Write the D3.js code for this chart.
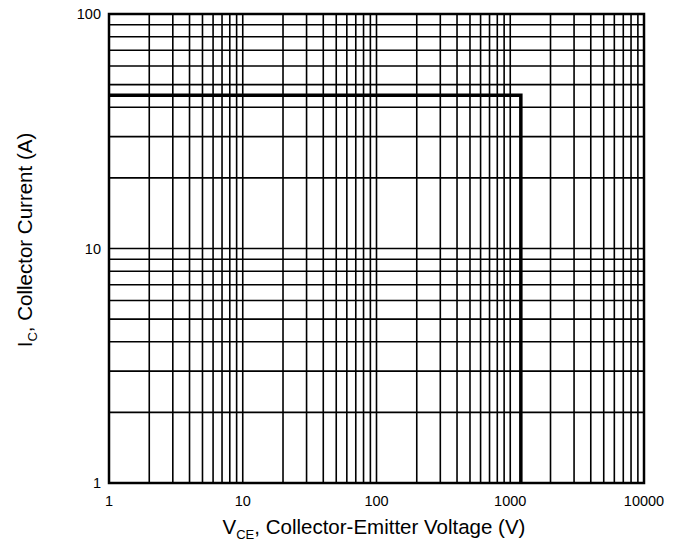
<!DOCTYPE html>
<html>
<head>
<meta charset="utf-8">
<script src="https://cdn.jsdelivr.net/npm/d3@7"></script>
<style>
  body { margin: 0; background: #fff; }
  text { font-family: "Liberation Sans", Arial, sans-serif; fill: #000; }
</style>
</head>
<body>
<div id="root"></div>
<script>
const width = 685;
const height = 550;

// axis domains and tick labels
const xDomain = [1, 10000];
const yDomain = [1, 100];
const xTickLabels = [1, 10, 100, 1000, 10000];
const yTickLabels = [1, 10, 100];

// safe operating area boundary (V, A)
const soaV = [1, 1200, 1200];
const soaI = [45, 45, 1];

const margin = {top: 14, right: 41, bottom: 67, left: 109};

const svg = d3.select('#root')
    .append('svg')
    .attr('width', width)
    .attr('height', height);

const x = d3.scaleLog().domain(xDomain).range([margin.left, width - margin.right]);
const y = d3.scaleLog().domain(yDomain).range([height - margin.bottom, margin.top]);

// minor + major grid values for each decade
const gridVals = (lo, hi) => {
    const out = [];
    for (let d = lo; d < hi; d *= 10) {
        for (let k = 1; k <= 9; k++) out.push(d * k);
    }
    out.push(hi);
    return out;
};

const grid = svg.append('g');
grid.selectAll('line.v')
    .data(gridVals(xDomain[0], xDomain[1]))
    .join('line')
    .attr('class', 'v')
    .attr('x1', d => x(d)).attr('x2', d => x(d))
    .attr('y1', y(yDomain[0])).attr('y2', y(yDomain[1]))
    .attr('stroke', '#000')
    .attr('stroke-width', 1.6);

grid.selectAll('line.h')
    .data(gridVals(yDomain[0], yDomain[1]))
    .join('line')
    .attr('class', 'h')
    .attr('y1', d => y(d)).attr('y2', d => y(d))
    .attr('x1', x(xDomain[0])).attr('x2', x(xDomain[1]))
    .attr('stroke', '#000')
    .attr('stroke-width', 1.6);

// frame
svg.append('rect')
    .attr('x', x(xDomain[0]))
    .attr('y', y(yDomain[1]))
    .attr('width', x(xDomain[1]) - x(xDomain[0]))
    .attr('height', y(yDomain[0]) - y(yDomain[1]))
    .attr('fill', 'none')
    .attr('stroke', '#000')
    .attr('stroke-width', 2.5);

// SOA boundary
const line = d3.line()
    .x((d, i) => x(soaV[i]))
    .y(d => y(d));
svg.append('path')
    .datum(soaI)
    .attr('d', line)
    .attr('fill', 'none')
    .attr('stroke', '#000')
    .attr('stroke-width', 3.5);

// tick labels
svg.append('g').selectAll('text')
    .data(xTickLabels)
    .join('text')
    .attr('x', d => x(d))
    .attr('y', y(yDomain[0]) + 23)
    .attr('text-anchor', 'middle')
    .attr('font-size', 14.5)
    .text(d => d);

svg.append('g').selectAll('text')
    .data(yTickLabels)
    .join('text')
    .attr('x', x(xDomain[0]) - 8)
    .attr('y', d => y(d) + 5)
    .attr('text-anchor', 'end')
    .attr('font-size', 14.5)
    .text(d => d);

// axis titles
const xt = svg.append('text')
    .attr('x', 374)
    .attr('y', 534)
    .attr('text-anchor', 'middle')
    .attr('font-size', 20.5);
xt.append('tspan').text('V');
xt.append('tspan').attr('font-size', 13).attr('dy', 5).text('CE');
xt.append('tspan').attr('dy', -5).text(', Collector-Emitter Voltage (V)');

const yt = svg.append('text')
    .attr('transform', 'translate(32,240) rotate(-90)')
    .attr('text-anchor', 'middle')
    .attr('font-size', 20.5);
yt.append('tspan').text('I');
yt.append('tspan').attr('font-size', 13).attr('dy', 5).text('C');
yt.append('tspan').attr('dy', -5).text(', Collector Current (A)');
</script>
</body>
</html>
